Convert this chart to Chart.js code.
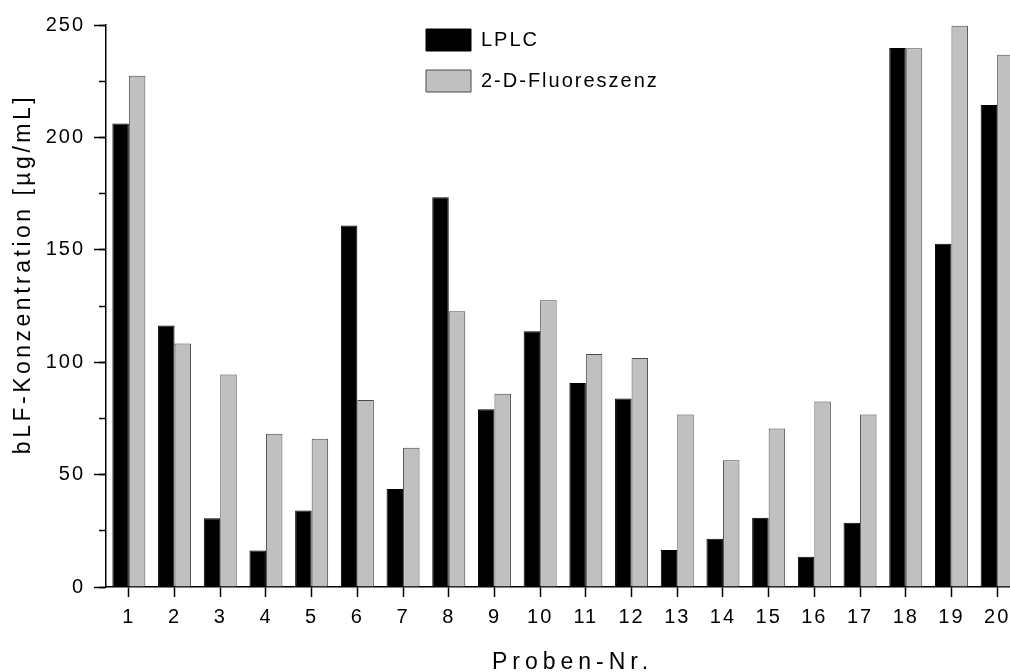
<!DOCTYPE html>
<html><head><meta charset="utf-8">
<script src="https://cdn.jsdelivr.net/npm/chart.js@4/dist/chart.umd.min.js"></script>
<style>html,body{margin:0;padding:0;overflow:hidden;background:#fff;width:1010px;height:672px}canvas{display:block}</style>
</head><body>
<canvas id="c" width="1020" height="672"></canvas>
<script>
const categories = ['1','2','3','4','5','6','7','8','9','10','11','12','13','14','15','16','17','18','19','20'];
const lplcValues = [206.2, 116.3, 30.6, 16.2, 34.0, 160.8, 43.6, 173.4, 79.1, 113.8, 90.8, 83.8, 16.5, 21.5, 30.8, 13.5, 28.6, 239.8, 152.7, 214.4];
const fluorValues = [227.4, 108.3, 94.5, 68.2, 65.9, 83.2, 61.9, 122.7, 86.0, 127.6, 103.6, 101.9, 76.7, 56.4, 70.5, 82.5, 76.7, 239.7, 249.7, 236.8];
const seriesNames = ['LPLC', '2-D-Fluoreszenz'];
const yMin = 0, yMax = 250, yMajorStep = 50, yMinorStep = 25;
const xTitle = 'Proben-Nr.';
const yTitle = 'bLF-Konzentration [µg/mL]';

Chart.defaults.font.family = "'Liberation Sans', Arial, sans-serif";
Chart.defaults.color = '#000';

function patchTitle(scale, spacing, dx, dy) {
  if (!scale || scale._titlePatched) return;
  const orig = scale.drawTitle;
  scale.drawTitle = function () {
    const c = this.ctx;
    c.save();
    c.letterSpacing = spacing;
    c.translate(dx, dy);
    orig.call(this);
    c.restore();
  };
  scale._titlePatched = true;
}

const stylePlugin = {
  id: 'stylePlugin',
  beforeUpdate(chart) { chart.ctx.letterSpacing = '2px'; },
  afterLayout(chart) {
    const lg = chart.legend;
    if (lg) {
      const w = lg.width;
      lg.left = 407; lg.top = 10;
      lg.right = lg.left + w;
      lg.bottom = chart.chartArea.bottom;
    }
  },
  beforeDraw(chart) {
    chart.ctx.letterSpacing = '2px';
    patchTitle(chart.scales.x, '5px', 9.5, 4);
    patchTitle(chart.scales.y, '3.5px', 0, -32);
  }
};

new Chart(document.getElementById('c'), {
  type: 'bar',
  data: {
    labels: categories,
    datasets: [
      { label: seriesNames[0], data: lplcValues, backgroundColor: '#000000', borderColor: '#000000',
        borderWidth: 1, categoryPercentage: 0.722, barPercentage: 1.0, yAxisID: 'y' },
      { label: seriesNames[1], data: fluorValues, backgroundColor: '#c0c0c0', borderColor: '#4a4a4a',
        borderWidth: 1, categoryPercentage: 0.722, barPercentage: 1.0, yAxisID: 'y' }
    ]
  },
  options: {
    responsive: false,
    devicePixelRatio: 1,
    animation: false,
    layout: { padding: { top: 25, right: 0, bottom: 0, left: 0 } },
    plugins: {
      tooltip: { enabled: false },
      legend: {
        position: 'chartArea', align: 'start', fullSize: false,
        labels: { boxWidth: 45, boxHeight: 22, padding: 19, font: { size: 20 }, color: '#000' }
      }
    },
    scales: {
      x: {
        type: 'category', offset: true,
        grid: { display: true, drawOnChartArea: false, offset: false, tickLength: 10, tickWidth: 1.5, tickColor: '#000' },
        border: { display: true, color: '#000', width: 1.5 },
        ticks: { font: { size: 20 }, padding: 8, maxRotation: 0, autoSkip: false, color: '#000' },
        title: { display: true, text: xTitle, font: { size: 23 }, padding: { top: 0, bottom: 0 }, color: '#000' },
        afterFit(s) { s.height = 85; }
      },
      y: {
        position: 'left', weight: 1, min: yMin, max: yMax,
        ticks: { stepSize: yMajorStep, font: { size: 20 }, padding: 9, color: '#000' },
        grid: { drawOnChartArea: false, tickLength: 12, tickWidth: 1.5, tickColor: '#000' },
        border: { display: true, color: '#000', width: 1.5 },
        title: { display: true, text: yTitle, font: { size: 23 }, padding: { top: 9.5, bottom: 0 }, color: '#000' },
        afterFit(s) { s.width = 106; }
      },
      y2: {
        position: 'left', weight: 0, min: yMin, max: yMax,
        ticks: { stepSize: yMinorStep, display: false },
        grid: { drawOnChartArea: false, tickLength: 7, tickWidth: 1.5, tickColor: '#000' },
        border: { display: false },
        afterFit(s) { s.width = 0; }
      }
    }
  },
  plugins: [stylePlugin]
});
</script>
</body></html>
